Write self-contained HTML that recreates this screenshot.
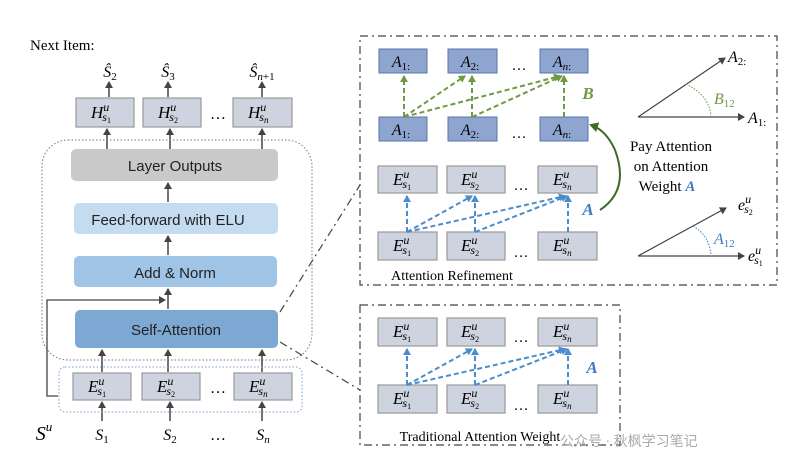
<!DOCTYPE html>
<html><head><meta charset="utf-8"><style>
body{margin:0;background:#fff}
svg{display:block}
text{font-family:"Liberation Serif",serif}
.s text{font-family:"Liberation Sans","DejaVu Sans",sans-serif}
</style></head><body>
<svg width="810" height="469" viewBox="0 0 810 469" xmlns="http://www.w3.org/2000/svg">
<defs>
<marker id="ak" markerWidth="8" markerHeight="8" refX="6" refY="4" orient="auto" markerUnits="userSpaceOnUse"><path d="M0,0 L7,4 L0,8 z" fill="#444"/></marker>
<marker id="ag" markerWidth="8" markerHeight="8" refX="6" refY="4" orient="auto" markerUnits="userSpaceOnUse"><path d="M0,0 L7,4 L0,8 z" fill="#6f9a45"/></marker>
<marker id="ab" markerWidth="8" markerHeight="8" refX="6" refY="4" orient="auto" markerUnits="userSpaceOnUse"><path d="M0,0 L7,4 L0,8 z" fill="#4b8ccc"/></marker>
<marker id="adg" markerWidth="10" markerHeight="10" refX="7" refY="5" orient="auto" markerUnits="userSpaceOnUse"><path d="M0,0 L9,5 L0,10 z" fill="#3e6b2a"/></marker>
</defs>

<!-- LEFT -->
<text x="30" y="50" font-size="15">Next Item:</text>
<g font-size="16" font-style="italic" text-anchor="middle">
<text x="110" y="77">Ŝ<tspan font-size="11" dy="3" font-style="normal">2</tspan></text>
<text x="168" y="77">Ŝ<tspan font-size="11" dy="3" font-style="normal">3</tspan></text>
<text x="262" y="77">Ŝ<tspan font-size="11" dy="3">n</tspan><tspan font-size="11" font-style="normal">+1</tspan></text>
</g>
<g stroke="#444" stroke-width="1.5" marker-end="url(#ak)">
<line x1="109" y1="97" x2="109" y2="82"/><line x1="168" y1="97" x2="168" y2="82"/><line x1="262" y1="97" x2="262" y2="82"/>
<line x1="107" y1="150" x2="107" y2="129"/><line x1="170" y1="150" x2="170" y2="129"/><line x1="262" y1="150" x2="262" y2="129"/>
<line x1="168" y1="202" x2="168" y2="183"/><line x1="168" y1="255" x2="168" y2="236"/><line x1="168" y1="309" x2="168" y2="289"/>
<line x1="102" y1="372" x2="102" y2="350"/><line x1="168" y1="372" x2="168" y2="350"/><line x1="262" y1="372" x2="262" y2="350"/>
<line x1="102" y1="421" x2="102" y2="402"/><line x1="170" y1="421" x2="170" y2="402"/><line x1="262" y1="421" x2="262" y2="402"/>
</g>
<polyline points="58,396 47,396 47,300 165,300" fill="none" stroke="#444" stroke-width="1.3" marker-end="url(#ak)"/>
<g fill="#cdd3df" stroke="#999" stroke-width="1.2">
<rect x="76" y="98" width="58" height="29"/><rect x="143" y="98" width="58" height="29"/><rect x="233" y="98" width="59" height="29"/>
<rect x="73" y="373" width="58" height="27"/><rect x="142" y="373" width="58" height="27"/><rect x="234" y="373" width="58" height="27"/>
</g>
<g font-size="17" font-style="italic">
<text x="91" y="118">H<tspan font-size="12" dy="-7">u</tspan><tspan font-size="12" dx="-7" dy="10">s</tspan><tspan font-size="8" dy="2" font-style="normal">1</tspan></text>
<text x="158" y="118">H<tspan font-size="12" dy="-7">u</tspan><tspan font-size="12" dx="-7" dy="10">s</tspan><tspan font-size="8" dy="2" font-style="normal">2</tspan></text>
<text x="248" y="118">H<tspan font-size="12" dy="-7">u</tspan><tspan font-size="12" dx="-7" dy="10">s</tspan><tspan font-size="9" dy="2">n</tspan></text>
<text x="88" y="392">E<tspan font-size="12" dy="-7">u</tspan><tspan font-size="12" dx="-7" dy="10">s</tspan><tspan font-size="8" dy="2" font-style="normal">1</tspan></text>
<text x="157" y="392">E<tspan font-size="12" dy="-7">u</tspan><tspan font-size="12" dx="-7" dy="10">s</tspan><tspan font-size="8" dy="2" font-style="normal">2</tspan></text>
<text x="249" y="392">E<tspan font-size="12" dy="-7">u</tspan><tspan font-size="12" dx="-7" dy="10">s</tspan><tspan font-size="9" dy="2">n</tspan></text>
</g>
<g font-size="16" font-style="italic" text-anchor="middle">
<text x="102" y="440">S<tspan font-size="11" dy="3" font-style="normal">1</tspan></text>
<text x="170" y="440">S<tspan font-size="11" dy="3" font-style="normal">2</tspan></text>
<text x="263" y="440">S<tspan font-size="11" dy="3">n</tspan></text>
<text x="44" y="440" font-size="20">S<tspan font-size="13" dy="-9">u</tspan></text>
</g>
<g font-size="16" text-anchor="middle"><text x="218" y="119">…</text><text x="218" y="393">…</text><text x="218" y="440">…</text></g>
<rect x="42" y="140" width="270" height="220" rx="26" fill="none" stroke="#777" stroke-width="1" stroke-dasharray="1.5,2"/>
<rect x="59" y="367" width="243" height="45" rx="6" fill="none" stroke="#7aa0d0" stroke-width="1" stroke-dasharray="1.5,2"/>
<rect x="71" y="149" width="207" height="32" rx="5" fill="#c9c9c9"/>
<rect x="74" y="203" width="204" height="31" rx="5" fill="#c5dcf0"/>
<rect x="74" y="256" width="203" height="31" rx="5" fill="#9fc4e6"/>
<rect x="75" y="310" width="203" height="38" rx="5" fill="#7ea8d4"/>
<g class="s" font-size="15" text-anchor="middle" fill="#222">
<text x="175" y="171">Layer Outputs</text>
<text x="168" y="225">Feed-forward with ELU</text>
<text x="175" y="278">Add &amp; Norm</text>
<text x="176" y="335">Self-Attention</text>
</g>
<g stroke="#444" stroke-width="1.2" stroke-dasharray="8,4,2,4" fill="none">
<line x1="280" y1="312" x2="360" y2="185"/><line x1="280" y1="342" x2="360" y2="390"/>
<rect x="360" y="36" width="417" height="249"/>
<rect x="360" y="305" width="260" height="140"/>
</g>

<!-- RIGHT TOP -->
<g fill="#8ea5cf" stroke="#5a74a8" stroke-width="1">
<rect x="379" y="49" width="48" height="24"/><rect x="448" y="49" width="49" height="24"/><rect x="540" y="49" width="48" height="24"/>
<rect x="379" y="117" width="48" height="24"/><rect x="448" y="117" width="49" height="24"/><rect x="540" y="117" width="48" height="24"/>
</g>
<g fill="#cdd3df" stroke="#999" stroke-width="1.2">
<rect x="378" y="166" width="59" height="27"/><rect x="447" y="166" width="58" height="27"/><rect x="538" y="166" width="59" height="27"/>
<rect x="378" y="232" width="59" height="28"/><rect x="447" y="232" width="58" height="28"/><rect x="538" y="232" width="59" height="28"/>
<rect x="378" y="318" width="59" height="28"/><rect x="447" y="318" width="58" height="28"/><rect x="538" y="318" width="59" height="28"/>
<rect x="378" y="385" width="59" height="28"/><rect x="447" y="385" width="58" height="28"/><rect x="538" y="385" width="59" height="28"/>
</g>
<g stroke="#6f9a45" stroke-width="2" stroke-dasharray="5,3" marker-end="url(#ag)">
<line x1="404" y1="117" x2="404" y2="76"/><line x1="404" y1="117" x2="465" y2="76"/><line x1="404" y1="117" x2="560" y2="76"/>
<line x1="472" y1="117" x2="472" y2="76"/><line x1="472" y1="117" x2="562" y2="76"/><line x1="564" y1="117" x2="564" y2="76"/>
</g>
<g stroke="#4b8ccc" stroke-width="2" stroke-dasharray="5,3" marker-end="url(#ab)">
<line x1="407" y1="232" x2="407" y2="196"/><line x1="407" y1="232" x2="472" y2="196"/><line x1="407" y1="232" x2="565" y2="196"/>
<line x1="475" y1="232" x2="475" y2="196"/><line x1="475" y1="232" x2="567" y2="196"/><line x1="568" y1="232" x2="568" y2="196"/>
<line x1="407" y1="385" x2="407" y2="349"/><line x1="407" y1="385" x2="472" y2="349"/><line x1="407" y1="385" x2="565" y2="349"/>
<line x1="475" y1="385" x2="475" y2="349"/><line x1="475" y1="385" x2="567" y2="349"/><line x1="568" y1="385" x2="568" y2="349"/>
</g>
<path d="M600,210 Q630,190 615,150 Q606,130 591,125" fill="none" stroke="#3e6b2a" stroke-width="2" marker-end="url(#adg)"/>
<g font-size="16" font-style="italic" text-anchor="middle">
<text x="401" y="67">A<tspan font-size="11" dy="3" font-style="normal">1:</tspan></text>
<text x="470" y="67">A<tspan font-size="11" dy="3" font-style="normal">2:</tspan></text>
<text x="562" y="67">A<tspan font-size="11" dy="3">n</tspan><tspan font-size="11" font-style="normal">:</tspan></text>
<text x="401" y="135">A<tspan font-size="11" dy="3" font-style="normal">1:</tspan></text>
<text x="470" y="135">A<tspan font-size="11" dy="3" font-style="normal">2:</tspan></text>
<text x="562" y="135">A<tspan font-size="11" dy="3">n</tspan><tspan font-size="11" font-style="normal">:</tspan></text>
</g>
<g font-size="17" font-style="italic">
<text x="393" y="185">E<tspan font-size="12" dy="-7">u</tspan><tspan font-size="12" dx="-7" dy="10">s</tspan><tspan font-size="8" dy="2" font-style="normal">1</tspan></text>
<text x="461" y="185">E<tspan font-size="12" dy="-7">u</tspan><tspan font-size="12" dx="-7" dy="10">s</tspan><tspan font-size="8" dy="2" font-style="normal">2</tspan></text>
<text x="553" y="185">E<tspan font-size="12" dy="-7">u</tspan><tspan font-size="12" dx="-7" dy="10">s</tspan><tspan font-size="9" dy="2">n</tspan></text>
<text x="393" y="251">E<tspan font-size="12" dy="-7">u</tspan><tspan font-size="12" dx="-7" dy="10">s</tspan><tspan font-size="8" dy="2" font-style="normal">1</tspan></text>
<text x="461" y="251">E<tspan font-size="12" dy="-7">u</tspan><tspan font-size="12" dx="-7" dy="10">s</tspan><tspan font-size="8" dy="2" font-style="normal">2</tspan></text>
<text x="553" y="251">E<tspan font-size="12" dy="-7">u</tspan><tspan font-size="12" dx="-7" dy="10">s</tspan><tspan font-size="9" dy="2">n</tspan></text>
<text x="393" y="337">E<tspan font-size="12" dy="-7">u</tspan><tspan font-size="12" dx="-7" dy="10">s</tspan><tspan font-size="8" dy="2" font-style="normal">1</tspan></text>
<text x="461" y="337">E<tspan font-size="12" dy="-7">u</tspan><tspan font-size="12" dx="-7" dy="10">s</tspan><tspan font-size="8" dy="2" font-style="normal">2</tspan></text>
<text x="553" y="337">E<tspan font-size="12" dy="-7">u</tspan><tspan font-size="12" dx="-7" dy="10">s</tspan><tspan font-size="9" dy="2">n</tspan></text>
<text x="393" y="404">E<tspan font-size="12" dy="-7">u</tspan><tspan font-size="12" dx="-7" dy="10">s</tspan><tspan font-size="8" dy="2" font-style="normal">1</tspan></text>
<text x="461" y="404">E<tspan font-size="12" dy="-7">u</tspan><tspan font-size="12" dx="-7" dy="10">s</tspan><tspan font-size="8" dy="2" font-style="normal">2</tspan></text>
<text x="553" y="404">E<tspan font-size="12" dy="-7">u</tspan><tspan font-size="12" dx="-7" dy="10">s</tspan><tspan font-size="9" dy="2">n</tspan></text>
</g>
<g font-size="15" text-anchor="middle"><text x="519" y="70">…</text><text x="519" y="138">…</text><text x="521" y="190">…</text><text x="521" y="257">…</text><text x="521" y="342">…</text><text x="521" y="410">…</text></g>
<text x="588" y="99" font-size="17" font-weight="bold" font-style="italic" fill="#6f9a45" text-anchor="middle">B</text>
<text x="588" y="215" font-size="17" font-weight="bold" font-style="italic" fill="#3a7cc0" text-anchor="middle">A</text>
<text x="592" y="373" font-size="17" font-weight="bold" font-style="italic" fill="#3a7cc0" text-anchor="middle">A</text>
<g font-size="15" text-anchor="middle">
<text x="671" y="151">Pay Attention</text>
<text x="671" y="171">on Attention</text>
<text x="667" y="191">Weight <tspan font-weight="bold" font-style="italic" fill="#3a7cc0">A</tspan></text>
</g>
<text x="452" y="280" font-size="14" text-anchor="middle">Attention Refinement</text>
<text x="480" y="441" font-size="14" text-anchor="middle">Traditional Attention Weight</text>
<!-- vectors -->
<g stroke="#444" stroke-width="1.2" marker-end="url(#ak)">
<line x1="638" y1="117" x2="725" y2="58"/><line x1="638" y1="117" x2="744" y2="117"/>
<line x1="638" y1="256" x2="726" y2="208"/><line x1="638" y1="256" x2="744" y2="256"/>
</g>
<path d="M686,84 Q710,96 711,117" fill="none" stroke="#6f9a45" stroke-dasharray="1.5,1.5"/>
<path d="M693,226 Q710,236 711,256" fill="none" stroke="#3a7cc0" stroke-dasharray="1.5,1.5"/>
<g font-size="16" font-style="italic">
<text x="728" y="62">A<tspan font-size="11" dy="3" font-style="normal">2:</tspan></text>
<text x="748" y="123">A<tspan font-size="11" dy="3" font-style="normal">1:</tspan></text>
<text x="714" y="104" fill="#6f9a45">B<tspan font-size="11" dy="3" font-style="normal">12</tspan></text>
<text x="714" y="244" fill="#3a7cc0">A<tspan font-size="11" dy="3" font-style="normal">12</tspan></text>
<text x="738" y="210">e<tspan font-size="12" dy="-7">u</tspan><tspan font-size="12" dx="-7" dy="10">s</tspan><tspan font-size="8" dy="2" font-style="normal">2</tspan></text>
<text x="748" y="261">e<tspan font-size="12" dy="-7">u</tspan><tspan font-size="12" dx="-7" dy="10">s</tspan><tspan font-size="8" dy="2" font-style="normal">1</tspan></text>
</g>
<text x="560" y="446" font-size="14" fill="#aaa" font-family="'Liberation Sans','Noto Sans CJK SC',sans-serif">公众号 · 秋枫学习笔记</text>
</svg>
</body></html>
